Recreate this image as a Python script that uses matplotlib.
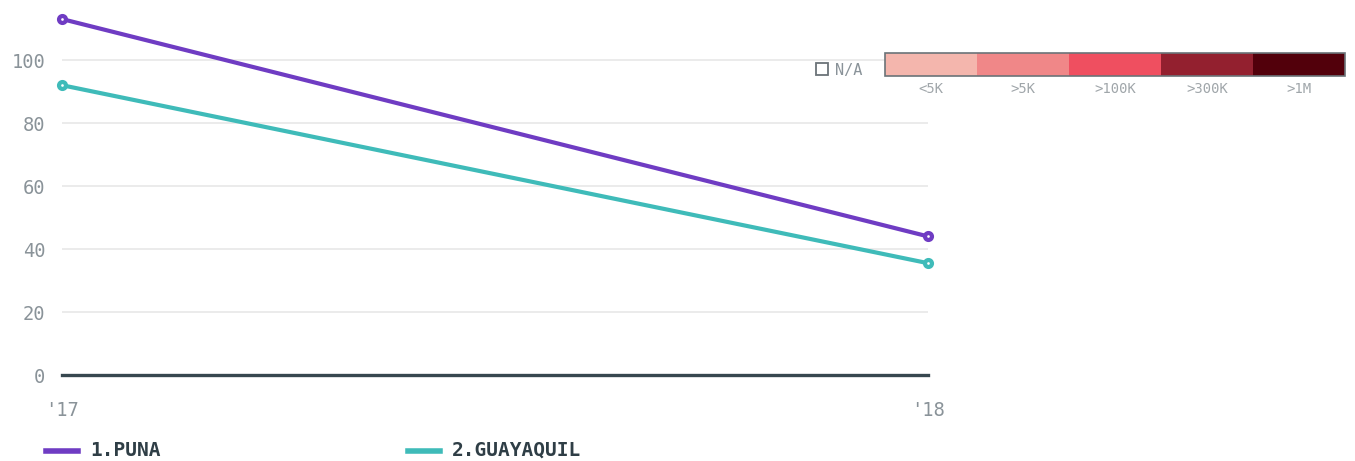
import matplotlib
matplotlib.use("Agg")
import matplotlib.pyplot as plt
from matplotlib.patches import Rectangle
from matplotlib.lines import Line2D

years = ["'17", "'18"]
puna = [113, 44]
guayaquil = [92, 35.5]
series_names = ["1.PUNA", "2.GUAYAQUIL"]
series_colors = ["#6f3cc3", "#3fbbb9"]
yticks = [0, 20, 40, 60, 80, 100]
scale_labels = ["<5K", ">5K", ">100K", ">300K", ">1M"]
scale_colors = ["#f4b6ad", "#f08788", "#ef4f60", "#93202f", "#52000b"]

W, H = 1355, 461
fig = plt.figure(figsize=(W / 100, H / 100), dpi=100)
font = "DejaVu Sans Mono"

# axes: x from 62 to 928 px, y 0 at 375 px, 100 at 60 px
ppu = (375 - 60) / 100
ymax = 115
top_px = 375 - ymax * ppu
ax = fig.add_axes([62 / W, (H - 375) / H, (928 - 62) / W, (375 - top_px) / H])
ax.set_xlim(0, 1)
ax.set_ylim(0, ymax)
for s in ax.spines.values():
    s.set_visible(False)
for y in yticks[1:]:
    ax.axhline(y, color="#e8e8e8", lw=1.2, zorder=1)
ax.axhline(0, color="#37474f", lw=2.4, zorder=2, clip_on=False)
xs = [0, 1]
for vals, c in zip([puna, guayaquil], series_colors):
    ax.plot(xs, vals, color=c, lw=3, zorder=3, clip_on=False, solid_capstyle="round")
    ax.plot(xs, vals, "o", ms=5, mfc="#ffffff", mec=c, mew=3, zorder=4, clip_on=False)
ax.set_yticks(yticks)
ax.set_yticklabels([str(v) for v in yticks], fontsize=13.5, color="#8a9399", family=font)
ax.tick_params(axis="y", length=0, pad=12)
ax.set_xticks(xs)
ax.set_xticklabels(years, fontsize=13.5, color="#8a9399", family=font)
ax.tick_params(axis="x", length=0, pad=19)

# color scale legend
lax = fig.add_axes([0, 0, 1, 1], facecolor="none")
lax.set_xlim(0, W)
lax.set_ylim(H, 0)
lax.axis("off")
x0, x1, yt, yb = 885, 1345, 53, 76
seg = (x1 - x0) / len(scale_colors)
for i, (c, lab) in enumerate(zip(scale_colors, scale_labels)):
    lax.add_patch(Rectangle((x0 + i * seg, yt), seg, yb - yt, facecolor=c, edgecolor="none"))
    lax.text(x0 + (i + 0.5) * seg, 89, lab, ha="center", va="center", fontsize=10,
             color="#a0a6aa", family=font)
lax.add_patch(Rectangle((x0, yt), x1 - x0, yb - yt, facecolor="none", edgecolor="#6b7378", lw=1.2))
lax.add_patch(Rectangle((816, 63), 12, 12, facecolor="white", edgecolor="#6b7378", lw=1.3))
lax.text(835, 70, "N/A", ha="left", va="center", fontsize=11, color="#8a9399", family=font)

# series legend
for (lx, tx), name, c in zip([(46, 90), (408, 452)], series_names, series_colors):
    lax.add_line(Line2D([lx, lx + 32], [451, 451], color=c, lw=4))
    lax.text(tx, 450, name, ha="left", va="center", fontsize=14, fontweight="bold",
             color="#2f3e46", family=font)

fig.savefig("out.png", dpi=100)
